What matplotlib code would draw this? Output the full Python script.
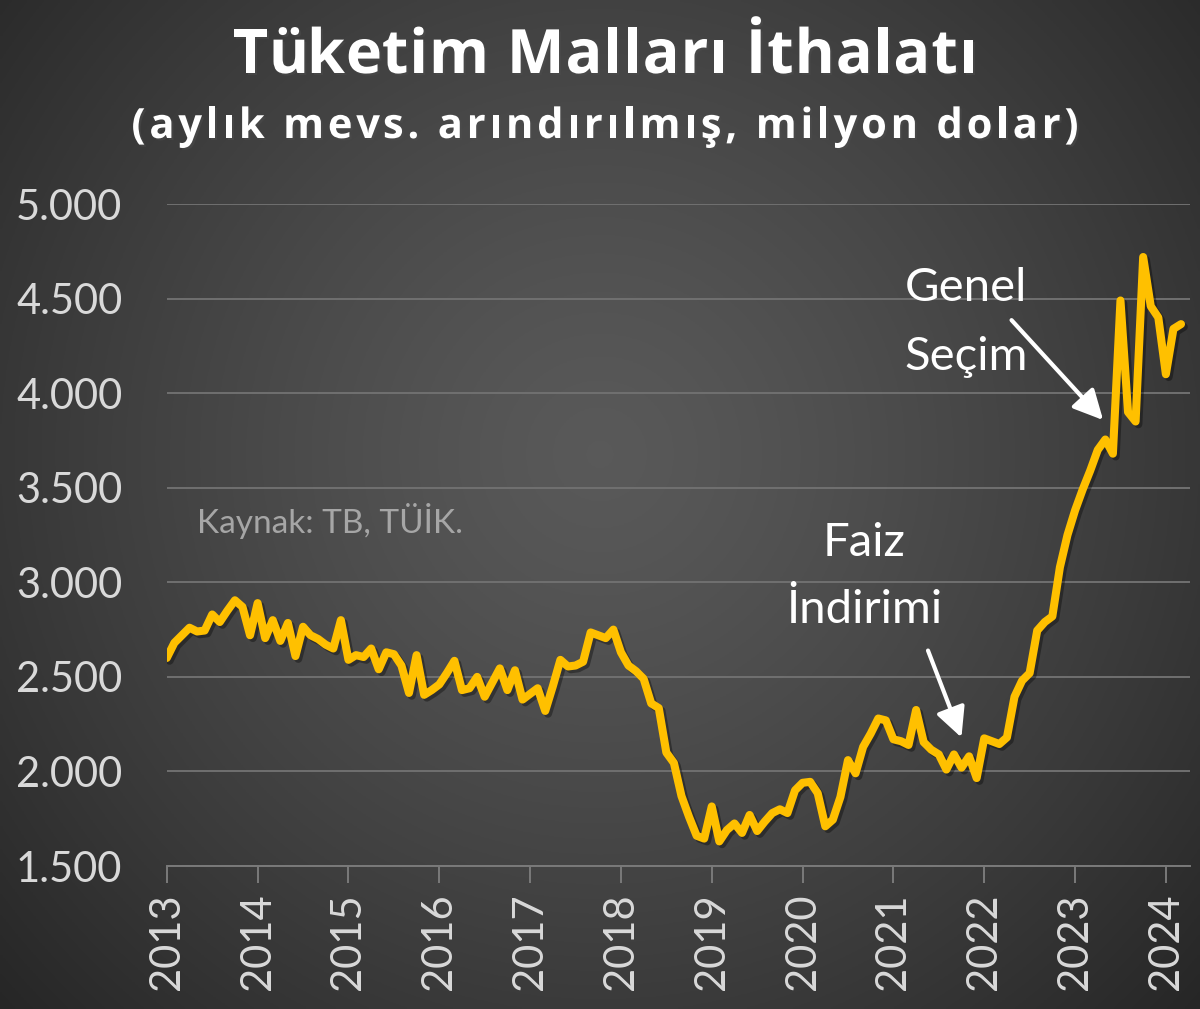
import numpy as np
import matplotlib.pyplot as plt
import matplotlib.patheffects as pe
from matplotlib.font_manager import FontProperties
from matplotlib.textpath import TextToPath

plt.rcParams['font.family'] = ['Lato', 'DejaVu Sans']

# aylık mevsimsellikten arındırılmış tüketim malları ithalatı, Ocak 2013 - Mart 2024
values = [
    2600, 2680, 2720, 2760, 2740, 2745, 2830, 2790, 2850, 2905, 2870, 2720,
    2890, 2705, 2800, 2690, 2785, 2610, 2765, 2720, 2700, 2670, 2650, 2800,
    2590, 2615, 2605, 2650, 2540, 2630, 2620, 2560, 2415, 2615, 2405, 2430,
    2460, 2520, 2585, 2430, 2440, 2500, 2395, 2470, 2545, 2430, 2535, 2380,
    2410, 2440, 2320, 2450, 2590, 2555, 2560, 2580, 2735, 2720, 2705, 2750,
    2630, 2560, 2530, 2490, 2360, 2335, 2100, 2045, 1870, 1760, 1660, 1645,
    1815, 1630, 1690, 1725, 1675, 1770, 1685, 1735, 1780, 1800, 1780, 1900,
    1940, 1945, 1885, 1710, 1745, 1865, 2060, 1990, 2130, 2200, 2280, 2270,
    2170, 2160, 2140, 2325, 2155, 2115, 2090, 2010, 2090, 2020, 2080, 1965,
    2175, 2160, 2145, 2180, 2395, 2480, 2520, 2745, 2790, 2820, 3080, 3250,
    3380, 3490, 3590, 3700, 3755, 3680, 4490, 3900, 3850, 4720, 4460, 4400,
    4100, 4340, 4365,
]
start_year = 2013
years = list(range(2013, 2025))
y_ticks = [1500, 2000, 2500, 3000, 3500, 4000, 4500, 5000]
y_labels = ['1.500', '2.000', '2.500', '3.000', '3.500', '4.000', '4.500', '5.000']

title = 'Tüketim Malları İthalatı'
subtitle = '(aylık mevs. arındırılmış, milyon dolar)'

x = start_year + np.arange(len(values)) / 12.0

W, H, DPI = 1200, 1009, 100
fig = plt.figure(figsize=(W / DPI, H / DPI), dpi=DPI)


def spaced_text(s, cx, y, size, spacing, **kw):
    """Harfler arası boşluklu, ortalanmış metin (cx ve spacing piksel)."""
    prop = FontProperties(family='Open Sans', weight='bold', size=size)
    ttp = TextToPath()

    def width(t):
        if not t:
            return 0.0
        w, _, _ = ttp.get_text_width_height_descent(t, prop, ismath=False)
        return w * DPI / 72.0

    total = width(s) + spacing * (len(s) - 1)
    left = cx - total / 2
    for i, ch in enumerate(s):
        px = left + width(s[:i]) + spacing * i
        fig.text(px / W, y, ch, ha='left', va='baseline', fontproperties=prop,
                 path_effects=[pe.withSimplePatchShadow(offset=(1.5, -1.5),
                                                        alpha=0.5)], **kw)


# arka plan: radyal gri degrade
bg = fig.add_axes([0, 0, 1, 1])
gx, gy = np.meshgrid(np.linspace(0, 1, 400), np.linspace(0, 1, 336))
r = np.sqrt((gx - 0.5) ** 2 + ((gy - 0.55) * 0.84) ** 2) / 0.68
shade = 0.35 - 0.2 * np.clip(r, 0, 1) ** 1.3
bg.imshow(np.dstack([shade] * 3), extent=[0, 1, 0, 1], aspect='auto', origin='lower')
bg.set_axis_off()

ax = fig.add_axes([0.139, 0.1417, 0.853, 0.6561])
ax.patch.set_alpha(0)
ax.plot(x, values, color='#FFC000', lw=5.8, solid_joinstyle='round',
        solid_capstyle='round',
        path_effects=[pe.SimpleLineShadow(offset=(2, -2), alpha=0.35), pe.Normal()],
        zorder=3)

ax.set_xlim(2013, 2024.27)
ax.set_ylim(1500, 5000)
ax.set_yticks(y_ticks)
ax.set_yticklabels(y_labels)
ax.set_xticks(years)
ax.set_xticklabels([str(y) for y in years], rotation=90)
ax.grid(axis='y', color='#707070', lw=1.4)
ax.set_axisbelow(True)
for s in ['top', 'right', 'left']:
    ax.spines[s].set_visible(False)
ax.spines['bottom'].set_color('#7a7a7a')
ax.spines['bottom'].set_linewidth(1.4)
ax.tick_params(axis='y', length=0, pad=32, labelsize=30, labelcolor='#d9d9d9')
ax.tick_params(axis='x', length=12, width=1.4, color='#7a7a7a', direction='out',
               pad=8, labelsize=30, labelcolor='#d9d9d9')

spaced_text(title, 605, 1 - 73 / H, 44, 1.0, color='white')
spaced_text(subtitle, 605, 1 - 138 / H, 30, 3.8, color='white')

ax.text(2014.8, 3325, 'Kaynak: TB, TÜİK.', ha='center', va='center',
        fontsize=24, color='#a6a6a6')

ax.text(2021.8, 4556, 'Genel', ha='center', va='center', fontsize=34, color='white')
ax.text(2021.8, 4191, 'Seçim', ha='center', va='center', fontsize=34, color='white')
ax.annotate('', xy=(2023.33, 3847), xytext=(2022.28, 4397),
            arrowprops=dict(arrowstyle='-|>,head_length=1.2,head_width=0.6',
                            mutation_scale=15, color='white', lw=3))

ax.text(2020.68, 3208, 'Faiz', ha='center', va='center', fontsize=34, color='white')
ax.text(2020.68, 2852, 'İndirimi', ha='center', va='center', fontsize=34, color='white')
ax.annotate('', xy=(2021.76, 2166), xytext=(2021.37, 2653),
            arrowprops=dict(arrowstyle='-|>,head_length=1.2,head_width=0.6',
                            mutation_scale=15, color='white', lw=3))

fig.savefig('out.png', dpi=DPI)
